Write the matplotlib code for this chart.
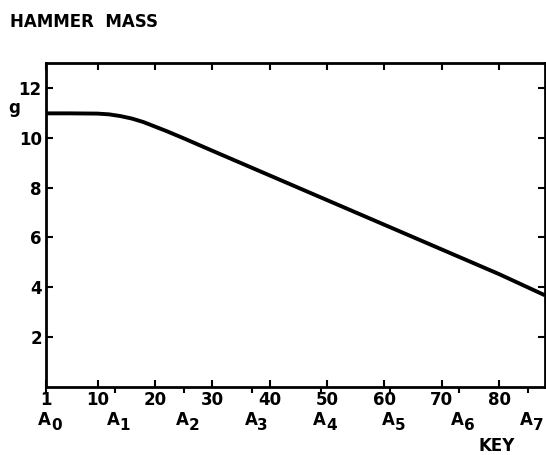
import numpy as np
import matplotlib
matplotlib.use("Agg")
import matplotlib.pyplot as plt

# hammer mass along the keyboard
keys = [1, 5, 10, 12, 14, 16, 18, 20, 22, 25, 30, 40, 50, 60, 70, 80, 88]
mass = [10.98, 10.98, 10.97, 10.94, 10.87, 10.77, 10.63, 10.45, 10.27,
        9.98, 9.48, 8.49, 7.50, 6.51, 5.52, 4.53, 3.68]

key_ticks = [1, 10, 20, 30, 40, 50, 60, 70, 80]
a_keys = [1, 13, 25, 37, 49, 61, 73, 85]
a_subs = ['0', '1', '2', '3', '4', '5', '6', '7']
mass_ticks = [2, 4, 6, 8, 10, 12]

plt.rcParams['font.family'] = 'DejaVu Sans'
plt.rcParams['font.weight'] = 'bold'

fig = plt.figure(figsize=(5.46, 4.55), dpi=100)
ax = fig.add_axes([0.0842, 0.1495, 0.9138, 0.712])

ax.plot(keys, mass, color='black', lw=2.8, solid_capstyle='butt')

ax.set_xlim(1, 88)
ax.set_ylim(0, 13)

ax.xaxis.remove_overlapping_locs = False
ax.set_xticks(key_ticks)
ax.set_xticklabels([str(k) for k in key_ticks])
ax.set_xticks(a_keys, minor=True)
ax.set_xticklabels([], minor=True)
ax.set_yticks(mass_ticks)

ax.tick_params(which='major', direction='in', length=5, width=1.5,
               top=True, right=True, labelsize=12, pad=3)
ax.tick_params(axis='x', which='minor', direction='out', length=4,
               width=1.5, top=False)
ax.tick_params(axis='y', which='minor', left=False, right=False)

# note names under the A keys, with a big subscript like the original
for k, s in zip(a_keys, a_subs):
    ax.annotate('A', (k, 0), xycoords=('data', 'axes fraction'),
                xytext=(-1, -17), textcoords='offset points',
                ha='center', va='top', fontsize=12, annotation_clip=False)
    ax.annotate(s, (k, 0), xycoords=('data', 'axes fraction'),
                xytext=(3.5, -22), textcoords='offset points',
                ha='left', va='top', fontsize=11, annotation_clip=False)

for sp in ax.spines.values():
    sp.set_linewidth(2)

fig.text(0.018, 0.952, 'HAMMER  MASS', fontsize=12, ha='left', va='center')
fig.text(0.026, 0.763, 'g', fontsize=12, ha='center', va='center')
fig.text(0.91, 0.02, 'KEY', fontsize=12, ha='center', va='center')

fig.savefig('out.png', dpi=100)
